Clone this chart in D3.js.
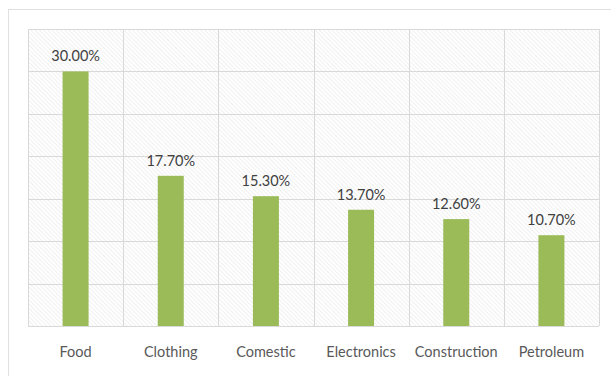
<!DOCTYPE html>
<html>
<head>
<meta charset="utf-8">
<script src="https://cdn.jsdelivr.net/npm/d3@7"></script>
<style>
  body { margin: 0; background: #fff; }
  svg { display: block; }
</style>
</head>
<body>
<div id="chart"></div>
<script>
// data
var categories = ["Food", "Clothing", "Comestic", "Electronics", "Construction", "Petroleum"];
var values = [30.0, 17.7, 15.3, 13.7, 12.6, 10.7];
var yTicks = [0, 5, 10, 15, 20, 25, 30, 35];

var w = 611, h = 376;
var plotLeft = 28, plotRight = 599, plotTop = 29, plotBottom = 326;

var svg = d3.select("#chart").append("svg")
    .attr("width", w)
    .attr("height", h);

// hatch pattern
var pat = svg.append("defs").append("pattern")
    .attr("id", "hatch")
    .attr("patternUnits", "userSpaceOnUse")
    .attr("width", 3)
    .attr("height", 3)
    .attr("patternTransform", "rotate(-45)");
pat.append("rect").attr("width", 3).attr("height", 3).attr("fill", "#ffffff");
pat.append("line")
    .attr("x1", 0).attr("y1", 0).attr("x2", 0).attr("y2", 3)
    .attr("stroke", "#e6e6e6")
    .attr("stroke-width", 1.2);

// outer frame
svg.append("rect")
    .attr("x", 8.5).attr("y", 9.5)
    .attr("width", 610).attr("height", 380)
    .attr("fill", "#fff")
    .attr("stroke", "#e0e0e0");

var x = d3.scaleBand()
    .domain(categories)
    .range([plotLeft, plotRight])
    .paddingInner(0)
    .paddingOuter(0);

var y = d3.scaleLinear()
    .domain([0, 35])
    .range([plotBottom, plotTop]);

// plot background
svg.append("rect")
    .attr("x", plotLeft).attr("y", plotTop)
    .attr("width", plotRight - plotLeft).attr("height", plotBottom - plotTop)
    .attr("fill", "url(#hatch)");

// horizontal grid
svg.selectAll("line.hgrid")
    .data(yTicks)
    .enter()
    .append("line")
    .attr("class", "hgrid")
    .attr("x1", plotLeft).attr("x2", plotRight)
    .attr("y1", function(d) { return Math.round(y(d)) + 0.5; })
    .attr("y2", function(d) { return Math.round(y(d)) + 0.5; })
    .attr("stroke", "#d9d9d9");

// vertical grid at category boundaries
var bounds = categories.map(function(c) { return x(c); }).concat([plotRight]);
svg.selectAll("line.vgrid")
    .data(bounds)
    .enter()
    .append("line")
    .attr("class", "vgrid")
    .attr("y1", plotTop).attr("y2", plotBottom)
    .attr("x1", function(d) { return Math.round(d) + 0.5; })
    .attr("x2", function(d) { return Math.round(d) + 0.5; })
    .attr("stroke", "#d9d9d9");

// bars
var barW = 26;
svg.selectAll("rect.bar")
    .data(values)
    .enter()
    .append("rect")
    .attr("class", "bar")
    .attr("x", function(d, i) { return x(categories[i]) + x.bandwidth() / 2 - barW / 2; })
    .attr("y", function(d) { return y(d); })
    .attr("width", barW)
    .attr("height", function(d) { return y(0) - y(d); })
    .attr("fill", "#9bbb59");

// value labels
svg.selectAll("text.val")
    .data(values)
    .enter()
    .append("text")
    .attr("class", "val")
    .text(function(d) { return d.toFixed(2) + "%"; })
    .attr("x", function(d, i) { return x(categories[i]) + x.bandwidth() / 2; })
    .attr("y", function(d) { return y(d) - 10; })
    .attr("text-anchor", "middle")
    .attr("font-family", "Lato, 'Open Sans', sans-serif")
    .attr("font-size", "14.5px")
    .attr("fill", "#404040");

// category labels
svg.selectAll("text.cat")
    .data(categories)
    .enter()
    .append("text")
    .attr("class", "cat")
    .text(function(d) { return d; })
    .attr("x", function(d) { return x(d) + x.bandwidth() / 2; })
    .attr("y", 357)
    .attr("text-anchor", "middle")
    .attr("font-family", "Lato, 'Open Sans', sans-serif")
    .attr("font-size", "14.5px")
    .attr("fill", "#595959");
</script>
</body>
</html>
